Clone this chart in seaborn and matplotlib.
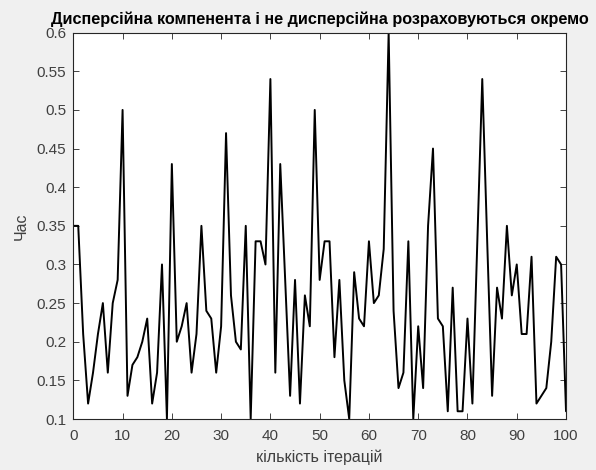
import matplotlib
matplotlib.use("Agg")
import matplotlib.pyplot as plt
import seaborn as sns
import pandas as pd
import numpy as np

iterations = list(range(0, 101))
times = [0.35, 0.35, 0.21, 0.12, 0.16, 0.21, 0.25, 0.16, 0.25, 0.28,
         0.50, 0.13, 0.17, 0.18, 0.20, 0.23, 0.12, 0.16, 0.30, 0.10,
         0.43, 0.20, 0.22, 0.25, 0.16, 0.21, 0.35, 0.24, 0.23, 0.16,
         0.22, 0.47, 0.26, 0.20, 0.19, 0.35, 0.10, 0.33, 0.33, 0.30,
         0.54, 0.16, 0.43, 0.28, 0.13, 0.28, 0.12, 0.26, 0.22, 0.50,
         0.28, 0.33, 0.33, 0.18, 0.28, 0.15, 0.10, 0.29, 0.23, 0.22,
         0.33, 0.25, 0.26, 0.32, 0.60, 0.24, 0.14, 0.16, 0.33, 0.10,
         0.22, 0.14, 0.35, 0.45, 0.23, 0.22, 0.11, 0.27, 0.11, 0.11,
         0.23, 0.12, 0.33, 0.54, 0.33, 0.13, 0.27, 0.23, 0.35, 0.26,
         0.30, 0.21, 0.21, 0.31, 0.12, 0.13, 0.14, 0.20, 0.31, 0.30,
         0.11]
x_ticks = [0, 10, 20, 30, 40, 50, 60, 70, 80, 90, 100]
y_ticks = [0.1, 0.15, 0.2, 0.25, 0.3, 0.35, 0.4, 0.45, 0.5, 0.55, 0.6]
y_tick_labels = ["0.1", "0.15", "0.2", "0.25", "0.3", "0.35", "0.4", "0.45", "0.5", "0.55", "0.6"]
title = "Дисперсійна компенента і не дисперсійна розраховуються окремо"
x_label = "кількість ітерацій"
y_label = "Час"

sns.set_style("white")
plt.rcParams['font.family'] = ['Liberation Sans', 'DejaVu Sans']

df = pd.DataFrame({"iter": iterations, "time": times})

fig = plt.figure(figsize=(5.96, 4.70), dpi=100, facecolor="#f0f0f0")
ax = fig.add_axes([0.123, 0.1085, 0.8267, 0.822])
ax.set_facecolor("white")

sns.lineplot(data=df, x="iter", y="time", ax=ax, color="black", linewidth=1.4)

ax.set_xlim(0, 100)
ax.set_ylim(0.1, 0.6)
ax.set_xticks(x_ticks)
ax.set_xticklabels([str(t) for t in x_ticks])
ax.set_yticks(y_ticks)
ax.set_yticklabels(y_tick_labels)

gray = "#262626"
for s in ax.spines.values():
    s.set_visible(True)
    s.set_color(gray)
    s.set_linewidth(0.8)
ax.tick_params(axis="both", direction="in", length=4, width=0.6, color=gray,
               labelcolor="#404040", labelsize=11, top=True, right=True,
               bottom=True, left=True)
ax.tick_params(axis="x", pad=7)
ax.tick_params(axis="y", pad=5)

ax.set_xlabel(x_label, fontsize=11.5, color="#404040", labelpad=5)
ax.set_ylabel(y_label, fontsize=11.5, color="#404040", labelpad=6)
ax.set_title(title, fontsize=11.7, fontweight="bold", color="black", pad=6)

fig.savefig("out.png", dpi=100, facecolor=fig.get_facecolor())
